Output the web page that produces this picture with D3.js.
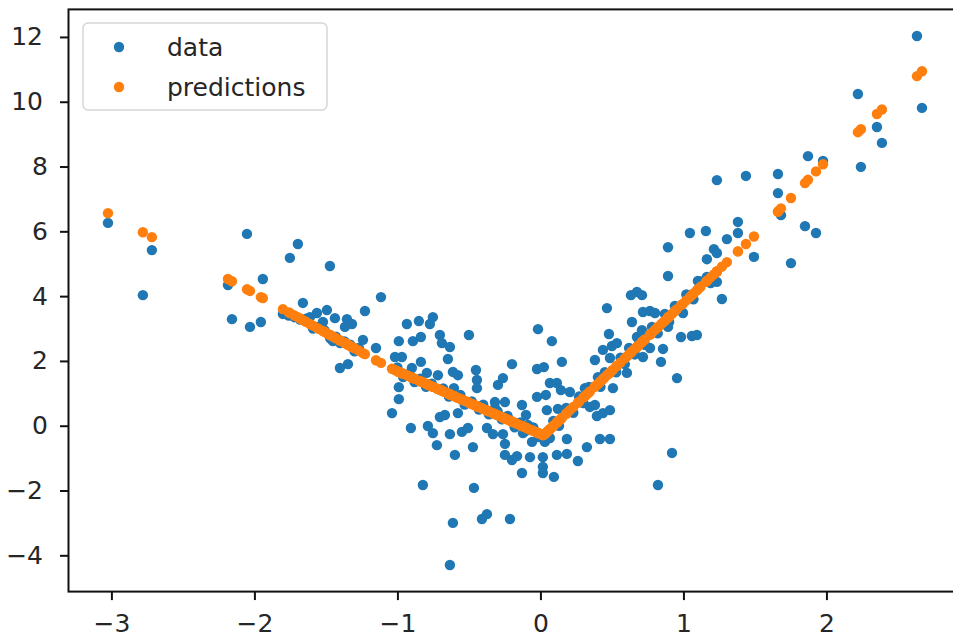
<!DOCTYPE html>
<html>
<head>
<meta charset="utf-8">
<script src="https://cdn.jsdelivr.net/npm/d3@7"></script>
<style>
  body { margin: 0; background: #fff; }
  svg text { font-family: "DejaVu Sans", sans-serif; }
</style>
</head>
<body>
<div id="chart"></div>
<script>
// x positions of the samples (predictions share them)
var xValues = [
  -3.024, -2.780, -2.717, -2.185, -2.052, -1.941, -1.752, -1.696, -1.472, -1.661,
  -1.115, -1.227, -2.157, -2.031, -1.955, -1.801, -1.563, -1.493, -1.437, -1.353,
  -1.318, -1.367, -1.612, -1.521, -1.451, -1.241, -1.150, -1.346, -1.402, -1.038,
  -0.990, -0.990, -0.990, -0.969, -0.934, -0.906, -0.850, -0.892, -0.836, -0.836,
  -0.899, -1.017, -0.822, -0.794, -0.787, -0.752, -0.773, -0.752, -0.724, -0.717,
  -0.703, -0.689, -0.703, -0.668, -0.647, -0.633, -0.633, -0.612, -0.605, -0.598,
  -0.612, -0.633, -0.577, -0.577, -0.549, -0.507, -0.500, -0.472, -0.465, -0.409,
  -0.374, -0.451, -0.444, -0.444, -0.332, -0.374, -0.248, -0.248, -0.213, -0.297,
  -0.262, -0.318, -0.318, -0.017, 0.080, -0.199, -0.024, 0.024, 0.150, 0.066,
  0.115, 0.143, 0.206, -0.024, 0.038, -0.129, -0.248, 0.045, 0.122, -0.101,
  -0.087, -0.122, -0.059, -0.262, -0.199, -0.164, -0.073, -0.129, 0.017, 0.017,
  0.017, 0.094, 0.115, 0.185, 0.262, 0.325, 0.185, 0.031, 0.066, 0.416,
  0.486, 0.311, 0.346, 0.381, 0.395, 0.437, 0.486, 0.381, 0.437, 0.500,
  0.486, 0.535, 0.479, 0.402, 0.507, 0.605, 0.465, 0.640, 0.717, 0.766,
  0.801, 0.717, 0.766, 0.857, 0.843, 0.955, 0.920, 0.822, 0.983, 1.059,
  1.094, 0.997, 0.892, 0.675, 0.710, 1.269, 1.234, 1.437, 1.661, 1.661,
  1.682, 1.871, 1.976, 1.850, 1.927, 1.752, 1.493, 2.220, 2.241, 2.353,
  2.388, 2.633, 2.668, 1.045, 1.157, 1.304, 1.381, 1.381, 1.213, 1.234,
  1.164, 0.892, 0.892, 0.633, 0.675, 0.710, 1.101, 1.164, 1.234,
  // samples mostly hidden under the orange band
  -1.76, -1.72, -1.68, -1.64, -1.59, -1.55, -1.51, -1.47, -1.43, -1.40,
  -1.37, -1.33, -1.30, -1.27,
  -1.00, -0.96, -0.92, -0.88, -0.84, -0.80, -0.76, -0.68, -0.64, -0.56,
  -0.53, -0.48, -0.43, -0.40, -0.36, -0.30, -0.27, -0.23, -0.18, -0.14,
  -0.10, -0.05, -0.01,
  0.05, 0.09, 0.13, 0.18, 0.23, 0.27, 0.30, 0.34, 0.42, 0.45,
  0.53, 0.56, 0.59, 0.62, 0.66, 0.69, 0.73, 0.78, 0.82, 0.87,
  0.90, 0.94, 1.02, 1.07, 1.12, 1.19
];

// observed values (blue)
var dataValues = [
  6.26, 4.03, 5.42, 4.34, 5.92, 4.53, 5.18, 5.61, 4.93, 3.79,
  3.97, 3.54, 3.29, 3.05, 3.20, 3.45, 3.48, 3.57, 3.32, 3.29,
  3.14, 3.05, 3.35, 3.20, 2.61, 2.65, 2.40, 1.90, 1.78, 0.39,
  0.82, 1.19, 2.61, 2.12, 3.14, -0.07, 3.23, 2.61, 2.74, 1.97,
  1.78, 2.12, -1.83, 1.63, -0.01, 3.35, 3.14, -0.23, -0.60, 1.56,
  2.80, 2.55, 0.27, 0.33, 2.06, 2.43, -0.26, 1.66, 1.16, -0.90,
  -3.00, -4.30, 1.56, 0.39, -0.19, -0.07, 2.80, -0.66, -1.92, -2.88,
  -2.73, 1.72, 1.41, 1.16, -0.26, -0.07, -0.56, -0.90, -2.88, 1.26,
  1.47, 0.73, 0.55, 2.98, 2.61, 1.90, 1.75, 1.81, 1.97, 1.32,
  1.32, 1.10, 1.04, 0.89, 0.95, 0.64, 0.73, 0.48, 0.52, 0.33,
  0.02, -0.23, -0.50, -0.26, -1.06, -0.94, -0.97, -1.46, -0.97, -1.27,
  -1.46, -1.58, -0.90, -0.87, -1.09, -0.66, -0.41, -0.50, -0.38, -0.41,
  -0.41, 1.16, 0.58, 0.64, 0.30, 0.39, 0.48, 2.03, 2.34, 2.46,
  2.09, 2.55, 2.83, 1.50, 1.16, 1.63, 3.63, 3.20, 3.51, 3.54,
  3.48, 2.12, 2.40, 2.37, 1.97, 1.47, -0.84, -1.83, 2.74, 2.77,
  2.80, 3.48, 3.05, 2.74, 2.95, 3.91, 7.58, 7.71, 7.77, 7.18,
  6.50, 8.32, 8.17, 6.16, 5.95, 5.02, 5.21, 10.24, 7.99, 9.22,
  8.73, 12.03, 9.81, 5.95, 6.01, 5.76, 6.29, 5.95, 5.45, 5.33,
  5.14, 5.51, 4.62, 4.03, 4.13, 4.03, 4.47, 4.59, 4.44,
  3.40, 3.35, 3.28, 3.30, 3.00, 3.05, 2.95, 2.70, 2.75, 2.55,
  2.60, 2.50, 2.30, 2.40,
  1.80, 1.50, 1.60, 1.35, 1.45, 1.20, 1.30, 1.15, 0.90, 0.95,
  0.65, 0.75, 0.50, 0.65, 0.35, 0.45, 0.20, 0.30, -0.05, 0.10,
  -0.15, -0.05, -0.35,
  -0.35, 0.15, 0.00, 0.55, 0.40, 0.90, 0.70, 1.20, 1.20, 1.65,
  1.65, 2.10, 1.90, 2.40, 2.20, 2.65, 2.50, 3.05, 2.85, 3.45,
  3.20, 3.70, 4.05, 3.90, 4.45, 4.40
];

// model predictions (orange)
var predValues = [
  6.56, 5.97, 5.82, 4.53, 4.21, 3.94, 3.48, 3.35, 2.80, 3.26,
  1.94, 2.21, 4.46, 4.16, 3.97, 3.60, 3.02, 2.85, 2.72, 2.52,
  2.43, 2.55, 3.14, 2.92, 2.75, 2.24, 2.02, 2.50, 2.63, 1.76,
  1.66, 1.66, 1.66, 1.62, 1.56, 1.50, 1.39, 1.47, 1.37, 1.37,
  1.49, 1.72, 1.34, 1.28, 1.27, 1.20, 1.24, 1.20, 1.15, 1.13,
  1.11, 1.08, 1.11, 1.04, 1.00, 0.97, 0.97, 0.93, 0.92, 0.90,
  0.93, 0.97, 0.86, 0.86, 0.81, 0.73, 0.71, 0.66, 0.65, 0.54,
  0.47, 0.62, 0.60, 0.60, 0.39, 0.47, 0.22, 0.22, 0.16, 0.32,
  0.25, 0.36, 0.36, -0.22, -0.05, 0.13, -0.21, -0.28, 0.24, -0.11,
  0.10, 0.21, 0.48, -0.21, -0.22, -0.01, 0.22, -0.20, 0.13, -0.06,
  -0.09, -0.02, -0.14, 0.25, 0.13, 0.06, -0.12, -0.01, -0.29, -0.29,
  -0.29, 0.01, 0.10, 0.39, 0.71, 0.97, 0.39, -0.25, -0.11, 1.35,
  1.64, 0.91, 1.06, 1.21, 1.26, 1.44, 1.64, 1.21, 1.44, 1.70,
  1.64, 1.85, 1.61, 1.29, 1.73, 2.14, 1.56, 2.29, 2.61, 2.81,
  2.96, 2.61, 2.81, 3.19, 3.13, 3.60, 3.45, 3.04, 3.72, 4.03,
  4.18, 3.77, 3.34, 2.43, 2.58, 4.91, 4.76, 5.61, 6.61, 6.61,
  6.71, 7.59, 8.07, 7.49, 7.85, 7.03, 5.84, 9.06, 9.15, 9.62,
  9.76, 10.79, 10.94, 3.97, 4.44, 5.05, 5.38, 5.38, 4.67, 4.76,
  4.47, 3.34, 3.34, 2.26, 2.43, 2.58, 4.21, 4.47, 4.76,
  3.50, 3.40, 3.31, 3.21, 3.09, 2.99, 2.90, 2.80, 2.70, 2.63,
  2.56, 2.46, 2.39, 2.32,
  1.68, 1.61, 1.53, 1.45, 1.37, 1.30, 1.22, 1.06, 0.98, 0.83,
  0.77, 0.67, 0.58, 0.52, 0.44, 0.33, 0.27, 0.19, 0.09, 0.01,
  -0.06, -0.16, -0.24,
  -0.17, -0.01, 0.16, 0.37, 0.58, 0.74, 0.87, 1.03, 1.37, 1.49,
  1.83, 1.95, 2.08, 2.20, 2.37, 2.49, 2.66, 2.87, 3.04, 3.24,
  3.37, 3.54, 3.87, 4.08, 4.29, 4.58
];

var xTicks = [-3, -2, -1, 0, 1, 2];
var yTicks = [-4, -2, 0, 2, 4, 6, 8, 10, 12];
var legendLabels = ["data", "predictions"];
var seriesColors = ["#1f77b4", "#ff7f0e"];

var width = 953, height = 637;
var plot = {left: 68.5, top: 9.4, right: 962.3, bottom: 591.6};
var fontSize = 25;
var dotR = 5.2;

var svg = d3.select("#chart")
  .append("svg")
    .attr("width", width)
    .attr("height", height)
    .style("background", "#fff");

var x = d3.scaleLinear()
  .domain([-3.30, 2.95])
  .range([plot.left, plot.right]);

var y = d3.scaleLinear()
  .domain([-5.12, 12.85])
  .range([plot.bottom, plot.top]);

var fmt = d3.format("d");

// x axis
var xAxis = svg.append("g")
  .attr("transform", "translate(0," + plot.bottom + ")")
  .call(d3.axisBottom(x).tickValues(xTicks).tickFormat(fmt).tickSize(8.5).tickPadding(14));

// y axis
var yAxis = svg.append("g")
  .attr("transform", "translate(" + plot.left + ",0)")
  .call(d3.axisLeft(y).tickValues(yTicks).tickFormat(fmt).tickSize(8.5).tickPadding(12));

[xAxis, yAxis].forEach(function(ax) {
  ax.select(".domain").remove();
  ax.selectAll(".tick line").attr("stroke", "#111").attr("stroke-width", 2);
  ax.selectAll(".tick text")
    .attr("fill", "#262626")
    .style("font-size", fontSize + "px")
    .style("font-family", "'DejaVu Sans', sans-serif");
});

// two-character labels sit a little further left in the original
yAxis.selectAll(".tick text")
  .attr("dx", function(d) { return String(d).length > 1 ? -5 : 0; });

// data points
svg.append("g")
  .selectAll("circle")
  .data(xValues)
  .enter()
  .append("circle")
    .attr("cx", function(d) { return x(d); })
    .attr("cy", function(d, i) { return y(dataValues[i]); })
    .attr("r", dotR)
    .attr("fill", seriesColors[0]);

// predictions on top
svg.append("g")
  .selectAll("circle")
  .data(xValues)
  .enter()
  .append("circle")
    .attr("cx", function(d) { return x(d); })
    .attr("cy", function(d, i) { return y(predValues[i]); })
    .attr("r", dotR)
    .attr("fill", seriesColors[1]);

// frame
svg.append("rect")
  .attr("x", plot.left)
  .attr("y", plot.top)
  .attr("width", plot.right - plot.left)
  .attr("height", plot.bottom - plot.top)
  .attr("fill", "none")
  .attr("stroke", "#111")
  .attr("stroke-width", 2);

// legend
var legend = svg.append("g");
legend.append("rect")
  .attr("x", 83)
  .attr("y", 23)
  .attr("width", 244)
  .attr("height", 87)
  .attr("rx", 5)
  .attr("fill", "#fff")
  .attr("fill-opacity", 0.8)
  .attr("stroke", "#d6d6d6")
  .attr("stroke-width", 1.5);

legendLabels.forEach(function(label, i) {
  var ly = 47 + i * 40;
  legend.append("circle")
    .attr("cx", 119)
    .attr("cy", ly)
    .attr("r", dotR)
    .attr("fill", seriesColors[i]);
  legend.append("text")
    .attr("x", 167)
    .attr("y", ly + 8.5)
    .attr("fill", "#262626")
    .style("font-size", fontSize + "px")
    .text(label);
});
</script>
</body>
</html>
